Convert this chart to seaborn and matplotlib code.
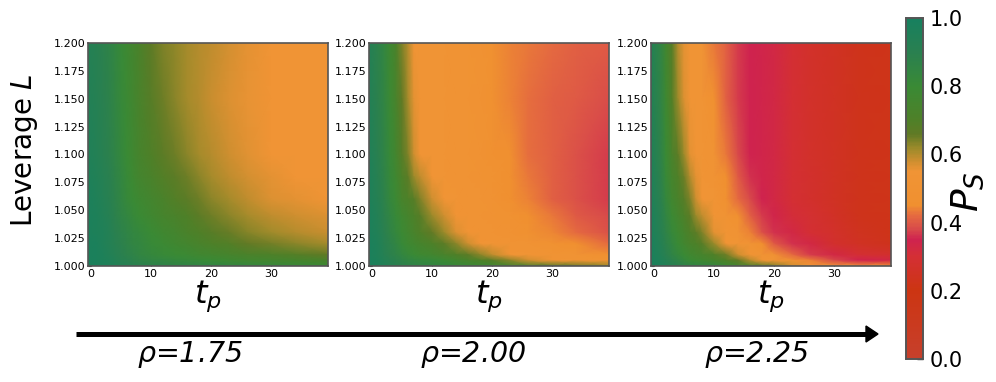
import numpy as np
import pandas as pd
import seaborn as sns
import matplotlib.pyplot as plt
from matplotlib.colors import LinearSegmentedColormap

# values, rows run top (L=1.2) to bottom (L=1.0)
# first and last t are the left and right edges of the image
t_read = [-0.5, 1, 2, 3, 4, 5, 6, 7, 8, 10, 12, 14, 16, 18, 20, 23, 26, 30, 34, 39.5]
L_read = [1.2, 1.15, 1.1, 1.08, 1.06, 1.045, 1.03, 1.02, 1.01, 1.005, 1.0]

ps_175 = [
    [.93, .91, .89, .87, .84, .81, .78, .75, .72, .665, .64, .625, .61, .60, .59, .575, .56, .55, .55, .55],
    [.94, .92, .90, .88, .85, .82, .79, .76, .73, .68, .65, .63, .61, .60, .585, .57, .555, .55, .55, .55],
    [.95, .93, .91, .89, .86, .83, .80, .77, .74, .70, .67, .65, .63, .61, .60, .58, .565, .55, .55, .55],
    [.96, .94, .92, .90, .87, .84, .81, .78, .75, .72, .69, .67, .65, .63, .61, .59, .575, .56, .55, .55],
    [.97, .95, .93, .91, .88, .85, .82, .80, .78, .75, .72, .69, .67, .65, .63, .61, .59, .57, .56, .55],
    [.97, .96, .94, .92, .89, .86, .84, .82, .80, .77, .74, .72, .70, .67, .65, .63, .61, .59, .58, .57],
    [.97, .96, .95, .93, .90, .88, .86, .84, .83, .80, .77, .75, .72, .70, .68, .655, .635, .615, .60, .585],
    [.98, .97, .95, .93, .91, .89, .87, .85, .84, .81, .79, .77, .75, .73, .71, .69, .66, .645, .63, .61],
    [.98, .97, .96, .94, .92, .90, .88, .87, .85, .83, .81, .80, .79, .77, .76, .74, .72, .71, .69, .66],
    [.98, .97, .96, .95, .93, .91, .90, .88, .87, .85, .84, .83, .82, .81, .80, .78, .76, .75, .74, .72],
    [.98, .97, .96, .95, .94, .93, .92, .91, .90, .89, .88, .87, .87, .86, .86, .85, .84, .83, .82, .80],
]

ps_200 = [
    [.93, .88, .84, .78, .72, .64, .60, .55, .55, .54, .54, .53, .53, .50, .47, .44, .43, .42, .41, .40],
    [.94, .89, .85, .79, .73, .66, .61, .56, .55, .54, .54, .53, .53, .51, .48, .44, .425, .41, .40, .385],
    [.95, .90, .86, .81, .75, .68, .64, .58, .55, .54, .54, .53, .52, .50, .48, .45, .425, .41, .39, .37],
    [.96, .91, .87, .82, .77, .71, .67, .62, .59, .55, .54, .53, .52, .51, .49, .455, .43, .41, .39, .37],
    [.96, .92, .88, .83, .79, .73, .71, .68, .64, .58, .54, .54, .53, .52, .50, .46, .44, .41, .39, .37],
    [.97, .93, .89, .85, .81, .77, .74, .71, .68, .62, .58, .54, .53, .53, .51, .49, .46, .43, .40, .38],
    [.97, .94, .90, .86, .83, .79, .76, .73, .70, .66, .62, .57, .54, .53, .52, .51, .48, .445, .42, .39],
    [.98, .95, .91, .88, .85, .81, .78, .76, .74, .71, .67, .63, .58, .55, .54, .53, .52, .49, .45, .42],
    [.98, .95, .92, .89, .87, .84, .82, .80, .78, .76, .73, .70, .67, .63, .59, .55, .54, .53, .52, .48],
    [.98, .96, .93, .91, .89, .87, .85, .84, .83, .82, .79, .76, .73, .71, .68, .63, .58, .55, .54, .53],
    [.98, .96, .94, .92, .90, .89, .88, .87, .86, .85, .84, .82, .81, .79, .78, .75, .72, .68, .65, .62],
]

ps_225 = [
    [.93, .86, .76, .68, .60, .56, .55, .55, .55, .43, .41, .37, .35, .34, .33, .30, .27, .25, .23, .22],
    [.94, .87, .78, .69, .62, .57, .55, .55, .55, .47, .41, .37, .35, .34, .33, .30, .27, .25, .23, .22],
    [.95, .88, .80, .72, .67, .62, .56, .55, .55, .52, .43, .38, .35, .34, .33, .30, .27, .25, .23, .22],
    [.96, .89, .81, .74, .70, .65, .60, .56, .55, .53, .45, .40, .36, .34, .33, .30, .28, .25, .23, .22],
    [.96, .90, .83, .76, .72, .68, .64, .58, .55, .54, .48, .42, .38, .35, .33, .30, .28, .25, .23, .22],
    [.97, .91, .85, .79, .75, .71, .67, .62, .59, .55, .53, .47, .41, .37, .34, .31, .29, .26, .23, .22],
    [.97, .92, .87, .82, .78, .74, .70, .67, .64, .56, .54, .52, .44, .39, .36, .33, .30, .27, .24, .22],
    [.98, .93, .88, .84, .80, .76, .73, .71, .68, .62, .55, .54, .52, .45, .40, .36, .33, .28, .25, .23],
    [.98, .94, .90, .86, .83, .80, .77, .75, .74, .70, .65, .58, .55, .53, .50, .42, .37, .33, .30, .28],
    [.98, .95, .92, .89, .86, .83, .80, .78, .77, .74, .70, .66, .60, .55, .54, .50, .44, .38, .35, .33],
    [.98, .96, .94, .92, .90, .88, .87, .86, .85, .84, .80, .76, .72, .68, .64, .58, .55, .54, .53, .50],
]

panels = [ps_175, ps_200, ps_225]
rho_labels = ['1.75', '2.00', '2.25']
rho_x = [190, 473, 757]
x_ticks = [0, 10, 20, 30]
y_ticks = [1.2, 1.175, 1.15, 1.125, 1.1, 1.075, 1.05, 1.025, 1.0]
cbar_ticks = [0.0, 0.2, 0.4, 0.6, 0.8, 1.0]

stops = [(0.0, '#c6402c'), (0.1, '#ca3a1f'), (0.2, '#cc3512'), (0.3, '#d42f35'), (0.35, '#cf2350'),
         (0.38, '#d84a4a'), (0.42, '#e56a40'), (0.45, '#f09030'), (0.55, '#f09435'), (0.58, '#cf8f30'),
         (0.62, '#9a8a2a'), (0.66, '#607a25'), (0.7, '#4f8028'), (0.8, '#3a8a35'), (0.9, '#2a8050'),
         (1.0, '#17805f')]
ps_cmap = LinearSegmentedColormap.from_list('ps', stops)

W, H = 996, 382
GREY = '#555555'


def px_axes(fig, left, top, right, bottom):
    return fig.add_axes([left / W, 1 - bottom / H, (right - left) / W, (bottom - top) / H])


sns.set_style('white')
plt.rcParams['mathtext.fontset'] = 'dejavusans'
plt.rcParams['text.color'] = 'black'
plt.rcParams['axes.labelcolor'] = 'black'
plt.rcParams['xtick.color'] = 'black'
plt.rcParams['ytick.color'] = 'black'
fig = plt.figure(figsize=(W / 100, H / 100), dpi=100)

boxes = [(88, 328), (369, 609), (651, 891)]
cax = px_axes(fig, 906, 18, 923, 359)

# heatmap cells sit at table positions, these map them back to t and L
t_pos = np.arange(len(t_read))
L_pos = np.arange(len(L_read))
neg_L = [-v for v in L_read]


def x_fwd(v):
    return np.interp(v, t_pos, t_read)


def x_inv(v):
    return np.interp(v, t_read, t_pos)


def y_fwd(v):
    return np.interp(v, L_pos, neg_L)


def y_inv(v):
    return np.interp(v, neg_L, L_pos)


for i, (vals, box) in enumerate(zip(panels, boxes)):
    ax = px_axes(fig, box[0], 43, box[1], 266)
    df = pd.DataFrame(vals, index=L_read, columns=t_read)
    sns.heatmap(df, ax=ax, cmap=ps_cmap, vmin=0, vmax=1, cbar=i == 2, cbar_ax=cax if i == 2 else None,
                cbar_kws={'ticks': cbar_ticks}, xticklabels=False, yticklabels=False, shading='gouraud')
    ax.set_xscale('function', functions=(x_fwd, x_inv))
    ax.set_yscale('function', functions=(y_fwd, y_inv))
    ax.set_xlim(t_pos[0], t_pos[-1])
    ax.set_ylim(L_pos[-1], L_pos[0])
    ax.set_xticks(x_inv(x_ticks), [str(t) for t in x_ticks])
    ax.set_yticks(y_inv([-v for v in y_ticks]), ['%.3f' % v for v in y_ticks])
    ax.tick_params(direction='in', length=2.5, width=0.8, color='#333333', labelsize=8, pad=2,
                   left=True, bottom=True, labelrotation=0)
    for s in ax.spines.values():
        s.set_visible(True)
        s.set_color(GREY)
        s.set_linewidth(1.2)
    ax.set_xlabel('$t_p$', fontsize=23, labelpad=0)
    ax.set_ylabel('')
    fig.text(rho_x[i] / W, 1 - 354 / H, r'$\rho$=' + rho_labels[i], fontsize=20.5,
             style='italic', ha='center', va='center')

fig.text(24 / W, 1 - 150 / H, 'Leverage $L$', fontsize=20, rotation=90, ha='center', va='center')

cax.tick_params(direction='in', length=4, width=1, color='#333333', labelsize=15, pad=5, right=True)
for s in cax.spines.values():
    s.set_visible(True)
    s.set_color(GREY)
    s.set_linewidth(1.2)
fig.text(968 / W, 1 - 192 / H, '$P_S$', fontsize=27, rotation=90, ha='center', va='center')

fig.add_artist(plt.Line2D([76 / W, 866 / W], [1 - 334 / H] * 2, color='black', lw=3.6, solid_capstyle='butt'))
fig.add_artist(plt.Polygon([[866 / W, 1 - 326 / H], [878 / W, 1 - 334 / H], [866 / W, 1 - 342 / H]],
                           closed=True, color='black', transform=fig.transFigure))

fig.savefig('out.png', dpi=100)
